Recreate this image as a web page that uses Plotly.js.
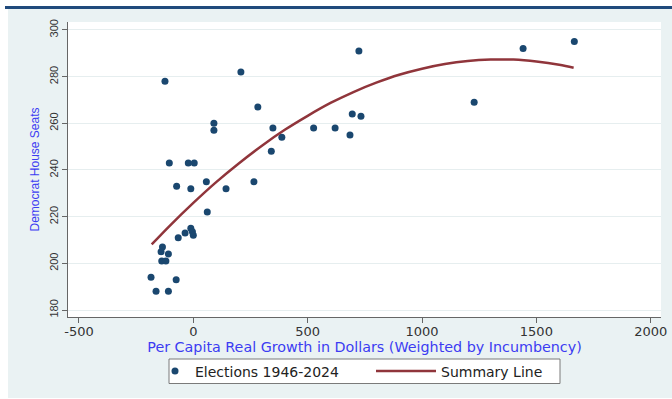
<!DOCTYPE html>
<html><head><meta charset="utf-8">
<script src="https://cdn.plot.ly/plotly-3.0.1.min.js"></script>
<style>html,body{margin:0;padding:0;background:#fff;} #chart{width:672px;height:399px;}</style>
</head><body><div id="chart"></div>
<script>
// Elections 1946-2024: per capita real growth (weighted by incumbency) vs Democrat House seats
const electionGrowth = [-124, 208, 282, 90, 90, -105, -22, 4, -73, 57, -11, 143, 265, 61, -11, -4, 0, -36, -66, -135,
  -141, -109, -138, -120, -185, -75, -163, -109, 724, 348, 387, 341, 526, 620, 685, 695, 733, 1442, 1666, 1228];
const electionSeats = [278, 282, 267, 260, 257, 243, 243, 243, 233, 235, 232, 232, 235, 222, 215, 213.5, 212, 213, 211, 207,
  205, 204, 201, 201, 194, 193, 188, 188, 291, 258, 254, 248, 258, 258, 255, 264, 263, 292, 295, 269];

// Summary line
const summaryGrowth = [-182, -100, 0, 100, 200, 300, 400, 500, 600, 700, 800, 900, 1000, 1100, 1200, 1300, 1400, 1500, 1600, 1663];
const summarySeats = [208.1, 216.4, 225.9, 234.8, 242.9, 250.4, 257.2, 263.2, 268.7, 273.4, 277.4, 280.8, 283.4, 285.4, 286.7, 287.3, 287.3, 286.5, 285.1, 283.8];

const xTickValues = [-500, 0, 500, 1000, 1500, 2000];
const xTickLabels = ['-500', '0', '500', '1000', '1500', '2000'];
const yTickValues = [180, 200, 220, 240, 260, 280, 300];

const seriesNames = ['Elections 1946-2024', 'Summary Line'];
const xTitle = 'Per Capita Real Growth in Dollars (Weighted by Incumbency)';
const yTitle = 'Democrat House Seats';

// page geometry (pixels) -> paper coordinates
const W = 672, H = 399, ML = 68, MR = 11, MT = 22, MB = 82;
const PW = W - ML - MR, PH = H - MT - MB;
const px = v => (v - ML) / PW;
const py = v => (H - MB - v) / PH;

const traces = [
  {
    type: 'scatter', mode: 'markers', name: seriesNames[0], legend: 'legend',
    x: electionGrowth, y: electionSeats,
    marker: {color: '#1a476f', size: 7, line: {width: 0}},
    hoverinfo: 'skip'
  },
  {
    type: 'scatter', mode: 'lines', name: seriesNames[1], legend: 'legend2',
    x: summaryGrowth, y: summarySeats,
    line: {color: '#90353b', width: 2.5, shape: 'spline'},
    hoverinfo: 'skip'
  }
];

const legendFont = {family: 'DejaVu Sans', size: 14, color: '#222'};

const layout = {
  width: W, height: H,
  margin: {l: ML, r: MR, t: MT, b: MB, pad: 0},
  paper_bgcolor: '#ffffff',
  plot_bgcolor: '#ffffff',
  showlegend: true,
  shapes: [
    {type: 'rect', xref: 'paper', yref: 'paper', layer: 'below',
     x0: px(8), x1: px(672), y0: py(398), y1: py(9),
     fillcolor: '#eaf2f3', line: {width: 0}},
    {type: 'rect', xref: 'paper', yref: 'paper', layer: 'below',
     x0: 0, x1: 1, y0: 0, y1: 1, fillcolor: '#ffffff', line: {width: 0}},
    {type: 'rect', xref: 'paper', yref: 'paper', layer: 'below',
     x0: px(5), x1: px(672), y0: py(9), y1: py(6),
     fillcolor: '#1f4a7c', line: {width: 0}},
    {type: 'rect', xref: 'paper', yref: 'paper', layer: 'below',
     x0: px(169), x1: px(560), y0: py(383.5), y1: py(359),
     fillcolor: '#ffffff', line: {color: '#7a7a7a', width: 1}}
  ],
  xaxis: {
    range: [-548, 2045], tickmode: 'array', tickvals: xTickValues, ticktext: xTickLabels,
    ticks: 'outside', ticklen: 5, tickcolor: '#666', tickwidth: 1, ticklabelstandoff: -3,
    showline: true, linecolor: '#666', linewidth: 1, mirror: false,
    showgrid: false, zeroline: false,
    tickfont: {family: 'DejaVu Sans', size: 13, color: '#333'},
    title: {text: xTitle, standoff: 0, font: {family: 'DejaVu Sans', size: 14.3, color: '#3c3cf2'}}
  },
  yaxis: {
    range: [177, 303.4], tickmode: 'array', tickvals: yTickValues,
    ticks: 'outside', ticklen: 5, tickcolor: '#666', tickwidth: 1, tickangle: -90,
    showline: true, linecolor: '#666', linewidth: 1,
    showgrid: true, gridcolor: '#e6eeef', gridwidth: 1, zeroline: false,
    tickfont: {family: 'Liberation Sans, Arial, sans-serif', size: 11, color: '#333'},
    title: {text: yTitle, standoff: 5, font: {family: 'Liberation Sans, Arial, sans-serif', size: 12, color: '#3c3cf2'}}
  },
  legend: {
    orientation: 'h', x: px(155), xanchor: 'left', y: py(371.5), yanchor: 'middle',
    bgcolor: 'rgba(0,0,0,0)', borderwidth: 0, font: legendFont
  },
  legend2: {
    orientation: 'h', x: px(371), xanchor: 'left', y: py(371.5), yanchor: 'middle',
    bgcolor: 'rgba(0,0,0,0)', borderwidth: 0, itemwidth: 60, font: legendFont
  }
};

Plotly.newPlot('chart', traces, layout, {displayModeBar: false, staticPlot: true});
</script>
</body></html>
